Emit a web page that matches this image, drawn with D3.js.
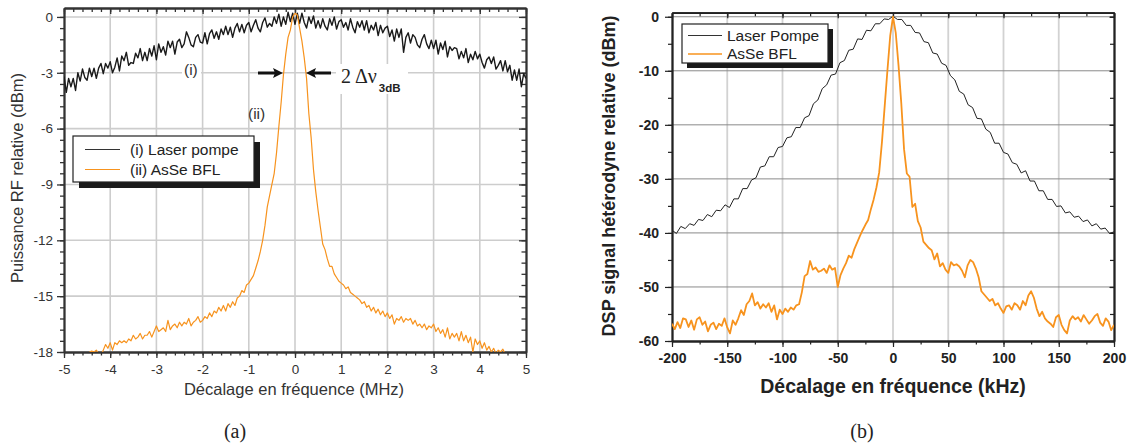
<!DOCTYPE html>
<html><head><meta charset="utf-8">
<script src="https://cdn.jsdelivr.net/npm/d3@7"></script>
<style>body{margin:0;background:#fff;} svg{display:block;}</style>
</head><body><svg id="c" width="1129" height="445"></svg>
<script>
// ---------- Panel (a) data: frequency offset in MHz, relative RF power in dBm ----------
const aPumpStart = -5, aPumpStep = 0.05;
const aPumpDb = [
 -3.2,-4.05,-3.3,-3.75,-3.3,-3.95,-3.0,-3.45,-2.8,-3.25,
 -3.4,-2.75,-3.2,-2.75,-3.3,-2.75,-2.5,-3.05,-2.5,-2.75,
 -2.4,-3.0,-2.7,-2.2,-2.9,-2.1,-2.35,-1.9,-2.6,-2.45,
 -2.5,-1.95,-2.2,-1.7,-2.35,-1.9,-2.35,-1.7,-2.1,-1.55,
 -2.3,-1.45,-1.9,-1.6,-2.05,-1.3,-1.65,-1.3,-2.0,-1.35,
 -1.2,-1.65,-1.45,-0.8,-1.1,-1.5,-1.6,-1.1,-0.95,-1.35,
 -1.4,-0.85,-1.45,-0.9,-0.7,-1.15,-0.8,-1.2,-0.65,-0.95,
 -0.5,-0.95,-0.55,-1.1,-0.6,-0.35,-0.8,-0.4,-0.85,-0.45,
 -0.3,-0.8,-0.45,-0.15,-0.6,-0.8,-0.3,-0.05,-0.55,-0.35,
 -0.5,0.0,-0.35,0.15,-0.5,0.0,-0.4,0.25,-0.25,0.2,
 -0.4,0.2,-0.35,0.2,-0.3,-0.6,0.0,-0.35,0.05,-0.6,
 -0.2,-0.6,-0.1,-0.5,-0.7,-0.1,-0.45,0.0,-0.65,-0.25,
 -0.15,-0.55,-0.3,-0.7,-0.1,-0.55,-0.85,-0.25,-0.55,-0.2,
 -0.7,-0.2,-0.85,-0.45,-0.7,-0.3,-1.0,-0.45,-0.85,-0.6,
 -0.5,-1.05,-0.7,-1.3,-0.65,-1.1,-0.65,-1.9,-1.1,-0.85,
 -1.4,-0.95,-1.1,-1.5,-1.65,-1.2,-0.95,-1.45,-1.7,-1.25,
 -1.7,-1.25,-2.0,-1.4,-1.75,-1.3,-2.15,-1.6,-1.8,-1.65,
 -1.7,-2.25,-1.85,-2.2,-1.7,-2.45,-2.0,-2.3,-1.85,-2.25,
 -2.0,-2.45,-2.75,-2.3,-2.15,-2.5,-2.15,-2.8,-2.6,-2.35,
 -2.9,-2.35,-2.95,-2.6,-3.4,-2.85,-3.4,-2.8,-3.75,-3.05,
 -3.3
];
const aBflStart = -4.45, aBflStep = 0.05;
const aBflDb = [
 -18.0,-17.95,-18.0,-17.9,-18.1,-18.2,-17.9,-17.6,-17.8,-17.5,
 -17.9,-17.5,-17.6,-17.4,-17.5,-17.4,-17.5,-17.3,-17.4,-17.1,
 -17.3,-17.2,-17.0,-17.3,-17.1,-17.1,-16.9,-17.2,-16.9,-16.6,
 -16.9,-16.8,-16.7,-16.9,-16.3,-16.8,-16.6,-16.5,-16.7,-16.4,
 -16.6,-16.4,-16.5,-16.2,-16.6,-16.4,-16.3,-16.1,-16.4,-16.3,
 -16.1,-16.2,-15.9,-16.1,-15.8,-15.9,-15.6,-15.8,-15.5,-15.8,
 -15.4,-15.6,-15.3,-15.5,-15.1,-15.0,-14.7,-14.8,-14.4,-14.3,
 -14.1,-13.9,-13.5,-13.1,-12.6,-12.0,-11.2,-10.2,-9.6,-9.0,
 -8.4,-7.3,-5.9,-4.6,-3.1,-2.0,-1.1,-0.7,0.0,0.2,
 0.1,-0.6,-1.3,-2.2,-3.3,-5.2,-6.5,-8.2,-9.4,-10.4,
 -11.3,-12.2,-12.5,-13.0,-13.4,-13.4,-13.8,-14.0,-14.2,-14.3,
 -14.4,-14.6,-14.5,-14.8,-14.9,-15.0,-15.1,-15.2,-15.4,-15.3,
 -15.6,-15.5,-15.8,-15.6,-15.9,-15.7,-16.0,-15.8,-16.1,-15.9,
 -16.2,-16.0,-16.5,-16.2,-16.3,-16.1,-16.4,-16.2,-16.3,-16.2,
 -16.5,-16.3,-16.6,-16.5,-16.7,-16.5,-16.8,-16.6,-16.7,-16.5,
 -16.9,-16.7,-17.0,-16.8,-17.2,-16.7,-17.3,-17.0,-17.2,-17.0,
 -17.4,-16.9,-17.4,-17.1,-17.5,-17.2,-18.0,-17.3,-17.6,-17.4,
 -17.8,-17.5,-17.9,-17.7,-18.0,-17.8,-18.1,-17.9,-18.0,-17.85,
 -18.1
];
const aXTicks = [-5,-4,-3,-2,-1,0,1,2,3,4,5];
const aYTicks = [0,-3,-6,-9,-12,-15,-18];
const aLegend = ["(i) Laser pompe", "(ii) AsSe BFL"];

// ---------- Panel (b) data: frequency offset in kHz, relative heterodyne PSD in dBm ----------
const bPumpStart = -200, bPumpStep = 4;
const bPumpDb = [
 -39.5,-40.1,-38.8,-39.2,-38.3,-38.6,-37.5,-37.7,-36.6,-37.0,
 -35.8,-35.9,-34.8,-35.3,-33.7,-33.7,-31.8,-31.8,-30.2,-29.8,
 -27.8,-27.6,-25.9,-25.9,-24.2,-24.0,-22.4,-22.2,-20.5,-20.5,
 -18.7,-18.3,-16.1,-15.4,-13.3,-12.6,-10.8,-10.6,-8.5,-8.1,
 -6.2,-6.0,-4.1,-4.2,-2.5,-2.6,-1.3,-1.3,-0.4,-0.5,
 0.1,-0.5,-0.5,-1.6,-1.6,-2.9,-3.0,-4.6,-4.8,-6.7,
 -6.9,-8.6,-9.0,-10.9,-11.7,-13.8,-14.3,-16.3,-16.8,-18.8,
 -18.9,-20.8,-21.4,-23.4,-23.4,-25.1,-25.4,-27.0,-27.3,-28.9,
 -28.5,-30.4,-30.4,-32.2,-32.2,-33.8,-33.8,-35.1,-35.0,-36.3,
 -36.1,-37.1,-36.9,-37.9,-37.6,-38.7,-38.3,-39.3,-39.1,-40.1,
 -39.8
];
const bBflStart = -200, bBflStep = 2.5;
const bBflDb = [
 -56.8,-57.8,-56.5,-57.6,-55.8,-56.0,-57.4,-56.2,
 -57.9,-56.0,-55.6,-57.0,-56.4,-58.2,-57.0,-56.6,
 -57.8,-56.8,-57.2,-55.8,-57.5,-58.6,-56.2,-57.0,
 -55.8,-54.3,-55.2,-53.2,-52.6,-51.2,-53.4,-52.8,
 -54.0,-53.2,-53.8,-53.0,-54.6,-53.4,-56.0,-54.2,
 -55.0,-54.0,-54.6,-53.8,-54.2,-53.4,-53.2,-51.0,
 -48.0,-47.6,-45.2,-46.8,-46.4,-47.2,-47.0,-46.6,
 -47.4,-46.0,-46.8,-46.5,-50.0,-47.8,-46.6,-45.6,
 -44.2,-44.6,-43.0,-41.8,-40.6,-39.5,-38.5,-37.6,
 -35.6,-33.8,-31.6,-28.8,-23.2,-16.5,-9.8,-3.5,
 0.0,-3.0,-9.0,-16.0,-24.5,-29.0,-29.6,-35.2,
 -34.6,-37.8,-39.0,-41.6,-42.2,-42.8,-43.2,-44.9,
 -43.8,-46.2,-45.6,-46.8,-47.4,-45.4,-46.0,-45.8,
 -46.2,-47.0,-48.2,-46.0,-45.0,-45.4,-46.6,-48.2,
 -50.8,-51.4,-52.0,-52.6,-52.2,-53.4,-53.0,-54.0,
 -54.8,-53.6,-53.4,-54.2,-53.0,-53.4,-54.2,-52.6,
 -53.4,-51.6,-50.8,-52.0,-54.0,-55.4,-54.6,-55.8,
 -56.4,-56.8,-57.4,-55.6,-55.2,-57.0,-58.0,-58.6,
 -56.2,-55.4,-56.0,-55.6,-56.4,-55.2,-56.0,-56.8,
 -56.2,-55.4,-55.0,-56.6,-57.2,-55.8,-56.4,-58.0,
 -57.0
];
const bXTicks = [-200,-150,-100,-50,0,50,100,150,200];
const bYTicks = [0,-10,-20,-30,-40,-50,-60];
const bLegend = ["Laser Pompe", "AsSe BFL"];

const ORANGE = "#f7931e", DARK = "#222";
const svg = d3.select("#c");
const SANS = "'Liberation Sans', Arial, sans-serif";
const SERIF = "'Liberation Serif', 'Times New Roman', serif";

function axes(x, y, o) {
  const [x0, x1] = x.range(), [y0, y1] = y.range();
  const g = svg.append("g");
  const fmt = d => String(d);
  g.append("g").selectAll("line").data(o.xGrid).join("line")
    .attr("x1", d => x(d)).attr("x2", d => x(d)).attr("y1", y0).attr("y2", y1)
    .attr("stroke", o.vGridColor).attr("stroke-width", o.vGridW);
  g.append("g").selectAll("line").data(o.yGrid).join("line")
    .attr("y1", d => y(d)).attr("y2", d => y(d)).attr("x1", x0).attr("x2", x1)
    .attr("stroke", o.hGridColor).attr("stroke-width", o.hGridW);
  const ax = [];
  ax.push(g.append("g").attr("transform", `translate(0,${y0})`)
    .call(d3.axisBottom(x).tickValues(o.xMinor).tickSize(o.bMin).tickFormat("").tickSizeOuter(0)));
  ax.push(g.append("g").attr("transform", `translate(0,${y0})`)
    .call(d3.axisBottom(x).tickValues(o.xMajor).tickSize(o.bMaj).tickPadding(o.xPad).tickFormat(fmt).tickSizeOuter(0)));
  ax.push(g.append("g").attr("transform", `translate(${x0},0)`)
    .call(d3.axisLeft(y).tickValues(o.yMinor).tickSize(o.lMin).tickFormat("").tickSizeOuter(0)));
  ax.push(g.append("g").attr("transform", `translate(${x0},0)`)
    .call(d3.axisLeft(y).tickValues(o.yMajor).tickSize(o.lMaj).tickPadding(o.yPad).tickFormat(fmt).tickSizeOuter(0)));
  ax.push(g.append("g").attr("transform", `translate(0,${y1})`)
    .call(d3.axisBottom(x).tickValues(o.xMinor).tickSize(o.tMin).tickFormat("").tickSizeOuter(0)));
  ax.push(g.append("g").attr("transform", `translate(0,${y1})`)
    .call(d3.axisBottom(x).tickValues(o.xMajor).tickSize(o.tMaj).tickFormat("").tickSizeOuter(0)));
  ax.push(g.append("g").attr("transform", `translate(${x1},0)`)
    .call(d3.axisLeft(y).tickValues(o.yMinor).tickSize(o.rMin).tickFormat("").tickSizeOuter(0)));
  ax.push(g.append("g").attr("transform", `translate(${x1},0)`)
    .call(d3.axisLeft(y).tickValues(o.yMajor).tickSize(o.rMaj).tickFormat("").tickSizeOuter(0)));
  ax.forEach(a => {
    a.attr("font-family", null).attr("font-size", null);
    a.select(".domain").attr("stroke", o.axisColor).attr("stroke-width", o.axisW);
    a.selectAll(".tick line").attr("stroke", o.axisColor).attr("stroke-width", o.tickW);
    a.selectAll(".tick text").attr("fill", o.labColor)
      .style("font-family", SANS).style("font-size", o.labSize + "px").style("font-weight", o.labWeight);
  });
  return g;
}

function clip(id, x, y) {
  const [x0, x1] = x.range(), [y0, y1] = y.range();
  svg.append("clipPath").attr("id", id).append("rect")
    .attr("x", x0).attr("y", y1).attr("width", x1 - x0).attr("height", y0 - y1);
}

function trace(data, start, step, x, y, color, w, clipId) {
  const line = d3.line().x((d, i) => x(start + i * step)).y(d => y(d));
  svg.append("path").datum(data).attr("d", line).attr("fill", "none")
    .attr("stroke", color).attr("stroke-width", w).attr("stroke-linejoin", "round")
    .attr("clip-path", `url(#${clipId})`);
}

function legend(lx, ly, w, h, shadow, items, colors, widths, o) {
  const g = svg.append("g");
  g.append("rect").attr("x", lx + shadow).attr("y", ly + shadow).attr("width", w).attr("height", h).attr("fill", "#1a1a1a");
  g.append("rect").attr("x", lx).attr("y", ly).attr("width", w).attr("height", h)
    .attr("fill", "#fff").attr("stroke", "#222").attr("stroke-width", 1.2);
  items.forEach((t, i) => {
    const cy = ly + o.row0 + i * o.rowH;
    g.append("line").attr("x1", lx + o.l0).attr("x2", lx + o.l1).attr("y1", cy).attr("y2", cy)
      .attr("stroke", colors[i]).attr("stroke-width", widths[i]);
    g.append("text").attr("x", lx + o.tx).attr("y", cy + o.base).text(t)
      .attr("fill", "#222").style("font-family", SANS).style("font-size", o.size + "px");
  });
}

// ================= Panel (a) =================
const xA = d3.scaleLinear().domain([-5, 5]).range([64, 526]);
const yA = d3.scaleLinear().domain([-18, 0.48]).range([352, 8]);
axes(xA, yA, {
  xGrid: aXTicks.slice(1, -1), yGrid: aYTicks.slice(0, -1),
  vGridColor: "#cdcdcd", vGridW: 1.6, hGridColor: "#cdcdcd", hGridW: 1.6,
  xMajor: aXTicks, xMinor: d3.range(-5, 5.001, 0.2),
  yMajor: aYTicks, yMinor: d3.range(-18, 0.01, 0.6),
  bMaj: 6, bMin: 3.5, lMaj: 7, lMin: 4, tMaj: 6, tMin: 4, rMaj: 7, rMin: 4.5,
  xPad: 6, yPad: 4, axisColor: "#333", axisW: 1.8, tickW: 1.3,
  labColor: "#333", labSize: 13.5, labWeight: "normal"
});
clip("clipA", xA, yA);
trace(aPumpDb, aPumpStart, aPumpStep, xA, yA, "#1a1a1a", 1.4, "clipA");
trace(aBflDb, aBflStart, aBflStep, xA, yA, ORANGE, 1.2, "clipA");

svg.append("rect").attr("x", 182).attr("y", 62).attr("width", 19).attr("height", 17).attr("fill", "#fff");
svg.append("text").attr("x", 184).attr("y", 75).text("(i)").attr("fill", "#333")
  .style("font-family", SANS).style("font-size", "15.5px");
svg.append("text").attr("x", 248).attr("y", 119).text("(ii)").attr("fill", "#333")
  .style("font-family", SANS).style("font-size", "15.5px");
const ay = 73;
svg.append("line").attr("x1", 258).attr("x2", 276).attr("y1", ay).attr("y2", ay).attr("stroke", "#111").attr("stroke-width", 3);
svg.append("path").attr("d", `M283,${ay} L273,${ay-5} L275,${ay} L273,${ay+5} Z`).attr("fill", "#111");
svg.append("line").attr("x1", 313).attr("x2", 331).attr("y1", ay).attr("y2", ay).attr("stroke", "#111").attr("stroke-width", 3);
svg.append("path").attr("d", `M306,${ay} L316,${ay-5} L314,${ay} L316,${ay+5} Z`).attr("fill", "#111");
svg.append("rect").attr("x", 336).attr("y", 64).attr("width", 72).attr("height", 30).attr("fill", "#fff");
const dl = svg.append("text").attr("x", 341).attr("y", 83).attr("fill", "#222");
dl.append("tspan").text("2 Δν").style("font-family", SERIF).style("font-size", "20px");
dl.append("tspan").attr("dy", 9).attr("dx", 2).text("3dB")
  .style("font-family", SANS).style("font-size", "11.5px").style("font-weight", "bold");

legend(73, 136, 181, 46, 6, aLegend, ["#333", ORANGE], [1.2, 1.2],
  { row0: 13.5, rowH: 20, l0: 12, l1: 47, tx: 57, base: 5.5, size: 15.5 });

svg.append("text").attr("transform", "translate(23,178) rotate(-90)").attr("text-anchor", "middle")
  .text("Puissance RF relative (dBm)").attr("fill", "#333")
  .style("font-family", SANS).style("font-size", "16.5px");
svg.append("text").attr("x", 294).attr("y", 395).attr("text-anchor", "middle")
  .text("Décalage en fréquence (MHz)").attr("fill", "#333")
  .style("font-family", SANS).style("font-size", "16.5px");

// ================= Panel (b) =================
const xB = d3.scaleLinear().domain([-200, 200]).range([672, 1114]);
const yB = d3.scaleLinear().domain([-60, 0.75]).range([341, 12.7]);
axes(xB, yB, {
  xGrid: bXTicks.slice(1, -1), yGrid: bYTicks.slice(0, -1),
  vGridColor: "#d2d2d2", vGridW: 1.8, hGridColor: "#8a8a8a", hGridW: 1,
  xMajor: bXTicks, xMinor: d3.range(-200, 201, 25),
  yMajor: bYTicks, yMinor: d3.range(-60, 1, 5),
  bMaj: 6, bMin: 3.5, lMaj: 7, lMin: 4, tMaj: 5.5, tMin: 3.5, rMaj: 4.5, rMin: 4,
  xPad: 6, yPad: 6, axisColor: "#222", axisW: 1.8, tickW: 1.2,
  labColor: "#222", labSize: 14, labWeight: "bold"
});
clip("clipB", xB, yB);
trace(bPumpDb, bPumpStart, bPumpStep, xB, yB, DARK, 1, "clipB");
trace(bBflDb, bBflStart, bBflStep, xB, yB, ORANGE, 1.8, "clipB");

legend(682, 24, 146, 39, 5, bLegend, ["#333", ORANGE], [1, 1.6],
  { row0: 11.5, rowH: 18.5, l0: 6, l1: 40, tx: 45, base: 5, size: 15.5 });

svg.append("text").attr("transform", "translate(615,176) rotate(-90)").attr("text-anchor", "middle")
  .text("DSP signal hétérodyne relative (dBm)").attr("fill", "#222")
  .style("font-family", SANS).style("font-size", "18px").style("font-weight", "bold");
svg.append("text").attr("x", 893).attr("y", 393).attr("text-anchor", "middle")
  .text("Décalage en fréquence (kHz)").attr("fill", "#222")
  .style("font-family", SANS).style("font-size", "19.5px").style("font-weight", "bold");

svg.append("text").attr("x", 235).attr("y", 438).attr("text-anchor", "middle").text("(a)")
  .attr("fill", "#222").style("font-family", SERIF).style("font-size", "20px");
svg.append("text").attr("x", 862).attr("y", 438).attr("text-anchor", "middle").text("(b)")
  .attr("fill", "#222").style("font-family", SERIF).style("font-size", "20px");
</script></body></html>
